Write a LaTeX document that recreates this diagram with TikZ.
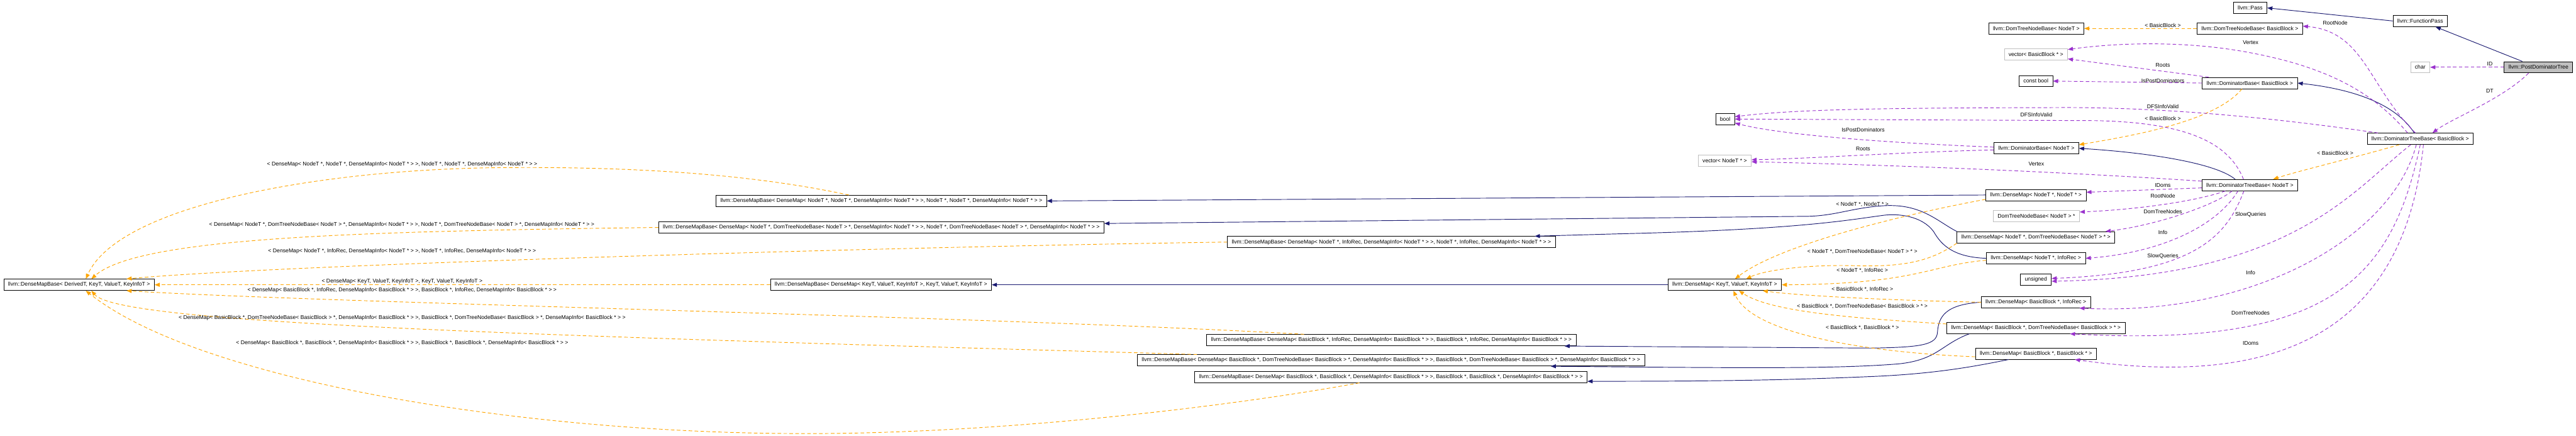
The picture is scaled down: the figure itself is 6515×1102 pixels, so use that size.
\documentclass[tikz,border=0pt]{standalone}
\usepackage{fontspec}
\setmainfont{Liberation Sans}
\usepackage{tikz}
\usetikzlibrary{arrows.meta}
\definecolor{inhblue}{RGB}{25,25,112}
\definecolor{tmplorange}{RGB}{255,165,0}
\definecolor{membpurple}{RGB}{154,50,205}
\definecolor{undocgray}{RGB}{191,191,191}
\newcommand{\dxfont}{\fontsize{13.8}{16}\selectfont}

\begin{document}
\begin{tikzpicture}[x=1pt,y=-1pt,
    cls/.style={draw=black,fill=white,line width=1.3pt,minimum height=28.5pt,inner xsep=11pt,inner ysep=0pt,font=\dxfont},
    extcls/.style={cls,draw=undocgray},
    curcls/.style={cls,fill=undocgray},
    inh/.style={inhblue,line width=1.5pt,-{Triangle[length=13pt,width=10pt]}},
    tmpl/.style={tmplorange,line width=1.5pt,dash pattern=on 9pt off 6pt,-{Triangle[length=13pt,width=10pt]}},
    memb/.style={membpurple,line width=1.5pt,dash pattern=on 9pt off 6pt,-{Triangle[length=13pt,width=10pt]}},
    lbl/.style={font=\dxfont,inner sep=0pt}]
    \useasboundingbox (0,0) rectangle (6515,1102);

    % Pass hierarchy
    \node[curcls] (pdt) at (6420,170) {llvm::PostDominatorTree};
    \node[cls] (fpass) at (6121,53) {llvm::FunctionPass};
    \node[cls] (pass) at (5691,20) {llvm::Pass};
    \node[extcls] (chr) at (6121,170) {char};

    % Dominator trees
    \node[cls] (dtbbb) at (6121,351) {llvm::DominatorTreeBase< BasicBlock >};
    \node[cls] (dtnbbb) at (5690,72) {llvm::DomTreeNodeBase< BasicBlock >};
    \node[cls] (dbbb) at (5690,210) {llvm::DominatorBase< BasicBlock >};
    \node[cls] (dtb) at (5690,468) {llvm::DominatorTreeBase< NodeT >};
    \node[cls] (dtnb) at (5150,72) {llvm::DomTreeNodeBase< NodeT >};
    \node[extcls] (vecbb) at (5149,137) {vector< BasicBlock * >};
    \node[cls] (cbool) at (5149,205) {const bool};
    \node[cls] (db) at (5150,375) {llvm::DominatorBase< NodeT >};
    \node[cls] (bool) at (4363,301) {bool};
    \node[extcls] (vecnode) at (4362,406) {vector< NodeT * >};

    % Maps
    \node[cls] (dmnn) at (5149,493) {llvm::DenseMap< NodeT *, NodeT * >};
    \node[extcls] (dtnbptr) at (5150,546) {DomTreeNodeBase< NodeT > *};
    \node[cls] (dmndt) at (5149,600) {llvm::DenseMap< NodeT *, DomTreeNodeBase< NodeT > * >};
    \node[cls] (dmni) at (5149,653) {llvm::DenseMap< NodeT *, InfoRec >};
    \node[cls] (uns) at (5149,707) {unsigned};
    \node[cls] (dmbi) at (5149,764) {llvm::DenseMap< BasicBlock *, InfoRec >};
    \node[cls] (dmbdt) at (5149,829) {llvm::DenseMap< BasicBlock *, DomTreeNodeBase< BasicBlock > * >};
    \node[cls] (dmbb) at (5149,894) {llvm::DenseMap< BasicBlock *, BasicBlock * >};
    \node[cls] (dmkv) at (4362,720) {llvm::DenseMap< KeyT, ValueT, KeyInfoT >};
    \node[cls] (dmb) at (200,720) {llvm::DenseMapBase< DerivedT, KeyT, ValueT, KeyInfoT >};
    \node[cls] (dmbnn) at (2229,508) {llvm::DenseMapBase< DenseMap< NodeT *, NodeT *, DenseMapInfo< NodeT * > >, NodeT *, NodeT *, DenseMapInfo< NodeT * > >};
    \node[cls] (dmbndt) at (2229,575) {llvm::DenseMapBase< DenseMap< NodeT *, DomTreeNodeBase< NodeT > *, DenseMapInfo< NodeT * > >, NodeT *, DomTreeNodeBase< NodeT > *, DenseMapInfo< NodeT * > >};
    \node[cls] (dmbni) at (3519,612) {llvm::DenseMapBase< DenseMap< NodeT *, InfoRec, DenseMapInfo< NodeT * > >, NodeT *, InfoRec, DenseMapInfo< NodeT * > >};
    \node[cls] (dmbkv) at (2228,720) {llvm::DenseMapBase< DenseMap< KeyT, ValueT, KeyInfoT >, KeyT, ValueT, KeyInfoT >};
    \node[cls] (dmbbi) at (3519,860) {llvm::DenseMapBase< DenseMap< BasicBlock *, InfoRec, DenseMapInfo< BasicBlock * > >, BasicBlock *, InfoRec, DenseMapInfo< BasicBlock * > >};
    \node[cls] (dmbbdt) at (3518,911) {llvm::DenseMapBase< DenseMap< BasicBlock *, DomTreeNodeBase< BasicBlock > *, DenseMapInfo< BasicBlock * > >, BasicBlock *, DomTreeNodeBase< BasicBlock > *, DenseMapInfo< BasicBlock * > >};
    \node[cls] (dmbbb) at (3518,953) {llvm::DenseMapBase< DenseMap< BasicBlock *, BasicBlock *, DenseMapInfo< BasicBlock * > >, BasicBlock *, BasicBlock *, DenseMapInfo< BasicBlock * > >};

    % Inheritance
    \draw[inh] (fpass.west) -- (pass.east);
    \draw[inh] (pdt.160) -- (fpass.-21);
    \draw[inh] ([xshift=-15pt]dtbbb.north) .. controls (6050,250) and (5920,222) .. (dbbb.east);
    \draw[inh] ([xshift=-37pt]dtb.north) .. controls (5600,410) and (5420,385) .. (db.east);
    \draw[inh] (dmnn.west) -- (dmbnn.east);
    \draw[inh] (dmndt.north west) .. controls (4900,560) and (4860,515) .. (4766,520) .. controls (4680,525) and (4640,548) .. (4556,547) -- ([yshift=10pt]dmbndt.east);
    \draw[inh] (dmni.west) .. controls (4930,650) and (4905,610) .. (4890,585) .. controls (4860,545) and (4800,540) .. (4766,544) .. controls (4680,555) and (4560,580) .. (4100,591) -- ([xshift=-53pt]dmbni.north east);
    \draw[inh] (dmkv.west) -- (dmbkv.east);
    \draw[inh] (dmbi.west) .. controls (4920,770) and (4903,800) .. (4900,840) .. controls (4898,872) and (4860,878) .. (4731,880) -- ([xshift=-30pt]dmbbi.south east);
    \draw[inh] ([xshift=58pt]dmbdt.south west) .. controls (4910,870) and (4900,910) .. (4801,920) .. controls (4650,932) and (4450,931) .. ([xshift=404pt]dmbbdt.south);
    \draw[inh] ([xshift=85pt]dmbb.south west) .. controls (5000,925) and (4900,945) .. (4731,952) .. controls (4500,962) and (4300,964) .. ([yshift=-11pt]dmbbb.east);

    % Template instances
    \draw[tmpl] (dtnbbb.west) -- (dtnb.east);
    \draw[tmpl] ([xshift=-20pt]dbbb.south) .. controls (5600,310) and (5380,345) .. ([yshift=9pt]db.east);
    \draw[tmpl] ([xshift=-53pt]dtbbb.south) .. controls (5950,400) and (5820,430) .. ([xshift=59pt]dtb.north);
    \draw[tmpl] ([yshift=-11pt]dmnn.west) .. controls (4800,545) and (4500,620) .. ([xshift=26pt]dmkv.north);
    \draw[tmpl] (dmndt.south west) .. controls (4890,655) and (4830,675) .. (4700,672) .. controls (4590,668) and (4470,680) .. ([xshift=54pt]dmkv.north);
    \draw[tmpl] ([yshift=-5pt]dmni.west) .. controls (4880,670) and (4850,718) .. (dmkv.east);
    \draw[tmpl] (dmbi.west) .. controls (4800,760) and (4550,748) .. ([xshift=96pt]dmkv.south);
    \draw[tmpl] ([yshift=10pt]dmbdt.west) .. controls (4700,805) and (4480,790) .. ([xshift=36pt]dmkv.south);
    \draw[tmpl] ([yshift=-8pt]dmbb.west) .. controls (4700,890) and (4430,840) .. ([xshift=22pt]dmkv.south);
    \draw[tmpl] ([xshift=-82pt]dmbnn.north) .. controls (1900,440) and (1600,420) .. (1250,424) .. controls (800,430) and (300,520) .. ([xshift=17pt]dmb.north);
    \draw[tmpl] (dmbndt.west) .. controls (900,585) and (350,600) .. ([xshift=31pt]dmb.north);
    \draw[tmpl] (dmbni.west) .. controls (2200,625) and (700,670) .. ([xshift=-71pt]dmb.north east);
    \draw[tmpl] (dmbkv.west) -- (dmb.east);
    \draw[tmpl] ([xshift=-221pt]dmbbi.north) .. controls (2500,800) and (800,765) .. ([xshift=-71pt]dmb.south east);
    \draw[tmpl] ([xshift=151pt]dmbbdt.north west) .. controls (1200,845) and (300,815) .. ([xshift=31pt]dmb.south);
    \draw[tmpl] ([xshift=-80pt]dmbbb.south) .. controls (3100,1030) and (2500,1100) .. (2000,1096) .. controls (1300,1092) and (500,960) .. ([xshift=17pt]dmb.south);

    % Members
    \draw[memb] (pdt.west) -- (chr.east);
    \draw[memb] ([xshift=-25pt]pdt.south) .. controls (6330,250) and (6200,300) .. ([xshift=31pt]dtbbb.north);
    \draw[memb] ([xshift=-12pt]dtbbb.north) .. controls (5990,220) and (5980,80) .. ([yshift=6pt]dtnbbb.east);
    \draw[memb] ([xshift=-32pt]dtbbb.north) .. controls (6000,230) and (5880,170) .. (5700,135) .. controls (5550,105) and (5380,105) .. ([yshift=-3pt]vecbb.north east);
    \draw[memb] ([xshift=-104pt]dbbb.north) -- ([yshift=3pt]vecbb.south east);
    \draw[memb] (dbbb.west) -- (cbool.east);
    \draw[memb] ([xshift=28pt]dtbbb.north west) .. controls (5800,305) and (5500,270) .. (5200,272) .. controls (4800,273) and (4550,275) .. ([yshift=6pt]bool.east);
    \draw[memb] ([xshift=-16pt]dtb.north) .. controls (5640,370) and (5550,310) .. (5300,305) -- (bool.east);
    \draw[memb] ([yshift=3pt]db.west) .. controls (4750,360) and (4500,340) .. ([yshift=-10pt]bool.east);
    \draw[memb] ([yshift=-4pt]db.west) .. controls (4800,385) and (4600,400) .. ([yshift=2pt]vecnode.east);
    \draw[memb] ([yshift=10pt]dtb.west) .. controls (5300,440) and (4900,420) .. ([yshift=-3pt]vecnode.east);
    \draw[memb] ([yshift=-7pt]dtb.west) -- ([yshift=7pt]dmnn.east);
    \draw[memb] ([xshift=-62pt]dtb.south) .. controls (5550,510) and (5400,530) .. ([yshift=10pt]dtnbptr.east);
    \draw[memb] ([xshift=-45pt]dtb.south) .. controls (5600,520) and (5450,570) .. ([xshift=-24pt]dmndt.north east);
    \draw[memb] ([xshift=-30pt]dtb.south) .. controls (5600,580) and (5450,640) .. (dmni.east);
    \draw[memb] ([xshift=-15pt]dtb.south) .. controls (5630,600) and (5550,690) .. ([yshift=3pt]uns.east);
    \draw[memb] ([xshift=-24pt]dtbbb.south) .. controls (5950,480) and (5800,700) .. ([yshift=-4pt]uns.east);
    \draw[memb] ([xshift=-10pt]dtbbb.south) .. controls (6050,600) and (5700,800) .. ([xshift=-29pt]dmbi.south east);
    \draw[memb] (dtbbb.south) .. controls (6050,700) and (5900,880) .. ([xshift=-140pt]dmbdt.south east);
    \draw[memb] ([xshift=8pt]dtbbb.south) .. controls (6080,850) and (5750,980) .. ([xshift=-55pt]dmbb.south east);

    % Edge labels
    \node[lbl] (lID) at (6297,161) {ID};
    \node[lbl] (lDT) at (6297,230) {DT};
    \node[lbl] (lRootBB) at (5906,58) {RootNode};
    \node[lbl] (lVertexBB) at (5692,108) {Vertex};
    \node[lbl] (lRootsBB) at (5470,165) {Roots};
    \node[lbl] (lIsPostBB) at (5470,204) {IsPostDominators};
    \node[lbl] (lDFSBB) at (5470,270) {DFSInfoValid};
    \node[lbl] (lTplDTN) at (5470,64) {< BasicBlock >};
    \node[lbl] (lTplDB) at (5470,299) {< BasicBlock >};
    \node[lbl] (lTplDTB) at (5906,387) {< BasicBlock >};
    \node[lbl] (lDFS) at (5150,290) {DFSInfoValid};
    \node[lbl] (lIsPost) at (4712,328) {IsPostDominators};
    \node[lbl] (lRoots) at (4712,376) {Roots};
    \node[lbl] (lVertex) at (5150,415) {Vertex};
    \node[lbl] (lIDoms) at (5470,468) {IDoms};
    \node[lbl] (lRoot) at (5470,495) {RootNode};
    \node[lbl] (lDomNodes) at (5470,535) {DomTreeNodes};
    \node[lbl] (lInfo) at (5470,587) {Info};
    \node[lbl] (lSlow) at (5470,647) {SlowQueries};
    \node[lbl] (lSlowBB) at (5692,543) {SlowQueries};
    \node[lbl] (lInfoBB) at (5692,690) {Info};
    \node[lbl] (lDomNodesBB) at (5692,791) {DomTreeNodes};
    \node[lbl] (lIDomsBB) at (5692,867) {IDoms};
    \node[lbl] (lTplNN) at (4710,516) {< NodeT *, NodeT * >};
    \node[lbl] (lTplNDT) at (4710,636) {< NodeT *, DomTreeNodeBase< NodeT > * >};
    \node[lbl] (lTplNI) at (4710,684) {< NodeT *, InfoRec >};
    \node[lbl] (lTplBI) at (4710,732) {< BasicBlock *, InfoRec >};
    \node[lbl] (lTplBDT) at (4710,774) {< BasicBlock *, DomTreeNodeBase< BasicBlock > * >};
    \node[lbl] (lTplBB) at (4710,828) {< BasicBlock *, BasicBlock * >};
    \node[lbl] (lBaseNN) at (1017,415) {< DenseMap< NodeT *, NodeT *, DenseMapInfo< NodeT * > >, NodeT *, NodeT *, DenseMapInfo< NodeT * > >};
    \node[lbl] (lBaseNDT) at (1016,569) {< DenseMap< NodeT *, DomTreeNodeBase< NodeT > *, DenseMapInfo< NodeT * > >, NodeT *, DomTreeNodeBase< NodeT > *, DenseMapInfo< NodeT * > >};
    \node[lbl] (lBaseNI) at (1017,635) {< DenseMap< NodeT *, InfoRec, DenseMapInfo< NodeT * > >, NodeT *, InfoRec, DenseMapInfo< NodeT * > >};
    \node[lbl] (lBaseKV) at (1017,711) {< DenseMap< KeyT, ValueT, KeyInfoT >, KeyT, ValueT, KeyInfoT >};
    \node[lbl] (lBaseBI) at (1017,733) {< DenseMap< BasicBlock *, InfoRec, DenseMapInfo< BasicBlock * > >, BasicBlock *, InfoRec, DenseMapInfo< BasicBlock * > >};
    \node[lbl] (lBaseBDT) at (1017,803) {< DenseMap< BasicBlock *, DomTreeNodeBase< BasicBlock > *, DenseMapInfo< BasicBlock * > >, BasicBlock *, DomTreeNodeBase< BasicBlock > *, DenseMapInfo< BasicBlock * > >};
    \node[lbl] (lBaseBB) at (1017,868) {< DenseMap< BasicBlock *, BasicBlock *, DenseMapInfo< BasicBlock * > >, BasicBlock *, BasicBlock *, DenseMapInfo< BasicBlock * > >};
\end{tikzpicture}
\end{document}
